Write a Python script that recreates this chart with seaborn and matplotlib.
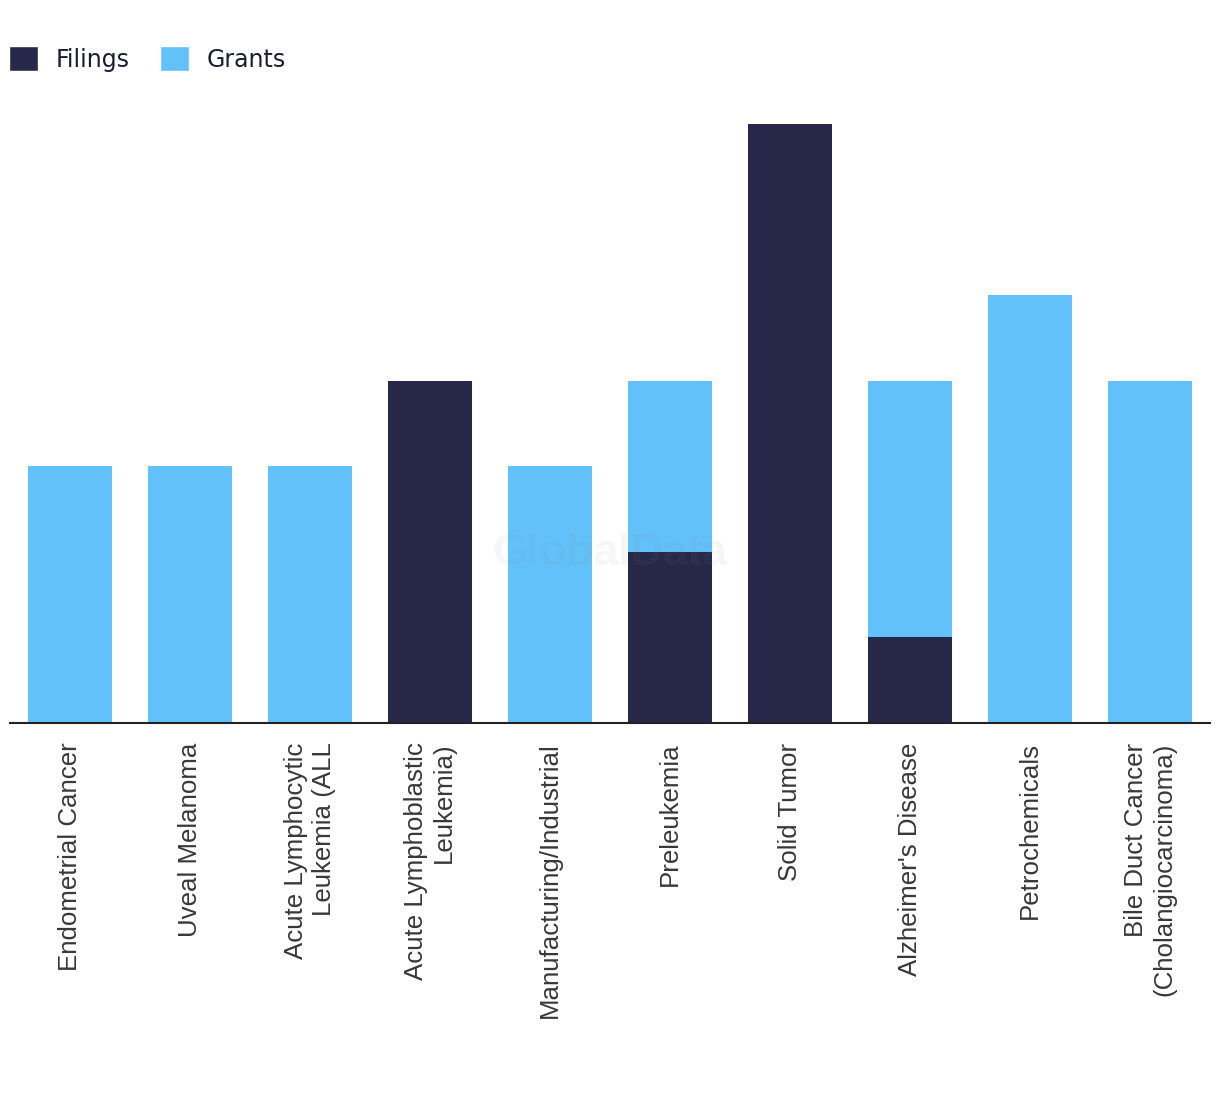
import numpy as np
import pandas as pd
import seaborn as sns
import matplotlib.pyplot as plt
from matplotlib.patches import Patch

categories = ['Endometrial Cancer', 'Uveal Melanoma', 'Acute Lymphocytic\nLeukemia (ALL',
              'Acute Lymphoblastic\nLeukemia)', 'Manufacturing/Industrial', 'Preleukemia',
              'Solid Tumor', "Alzheimer's Disease", 'Petrochemicals',
              'Bile Duct Cancer\n(Cholangiocarcinoma)']
filings = [0, 0, 0, 4, 0, 2, 7, 1, 0, 0]
grants = [3, 3, 3, 0, 3, 2, 0, 3, 5, 4]

dark = '#272849'
light = '#62C1F9'

df = pd.DataFrame({'category': categories, 'filings': filings, 'grants': grants})
df['total'] = df['filings'] + df['grants']

sns.set_style('white')
plt.rcParams['font.family'] = ['Liberation Sans', 'DejaVu Sans']

fig = plt.figure(figsize=(12.2, 10.94), dpi=100)
ax = fig.add_axes([10 / 1220, 371 / 1094, 1200 / 1220, 628 / 1094])

sns.barplot(data=df, x='category', y='total', color=light, width=0.7, saturation=1,
            linewidth=0, ax=ax)
sns.barplot(data=df, x='category', y='filings', color=dark, width=0.7, saturation=1,
            linewidth=0, ax=ax)

ax.set_xlim(-0.5, 9.5)
ax.set_ylim(0, 7.34)
ax.set_xlabel('')
ax.set_ylabel('')
ax.set_yticks([])
for s in ['top', 'right', 'left']:
    ax.spines[s].set_visible(False)
ax.spines['bottom'].set_color('#222222')
ax.spines['bottom'].set_linewidth(1.5)

ax.tick_params(axis='x', length=0, pad=14)
ax.set_xticks(range(len(categories)))
ax.set_xticklabels(categories, rotation=90, fontsize=18.6, color='#383838',
                   va='top', ha='center', multialignment='right', linespacing=1.2)

ax.text(0.5, 0.27, 'GlobalData', transform=ax.transAxes, ha='center', va='center',
        fontsize=32, fontweight='bold', color='#888888', alpha=0.07, zorder=10)

handles = [Patch(facecolor=dark, label='Filings'), Patch(facecolor=light, label='Grants')]
leg = fig.legend(handles=handles, loc='center left', bbox_to_anchor=(2 / 1220, 1 - 59 / 1094),
                 ncol=2, frameon=False, handlelength=1.24, handleheight=1.24,
                 handletextpad=0.72, columnspacing=1.3, borderaxespad=0, borderpad=0.3,
                 prop={'family': 'DejaVu Sans', 'size': 17})
for t in leg.get_texts():
    t.set_color('#1c1c30')

fig.savefig('out.png', dpi=100, facecolor='white')
